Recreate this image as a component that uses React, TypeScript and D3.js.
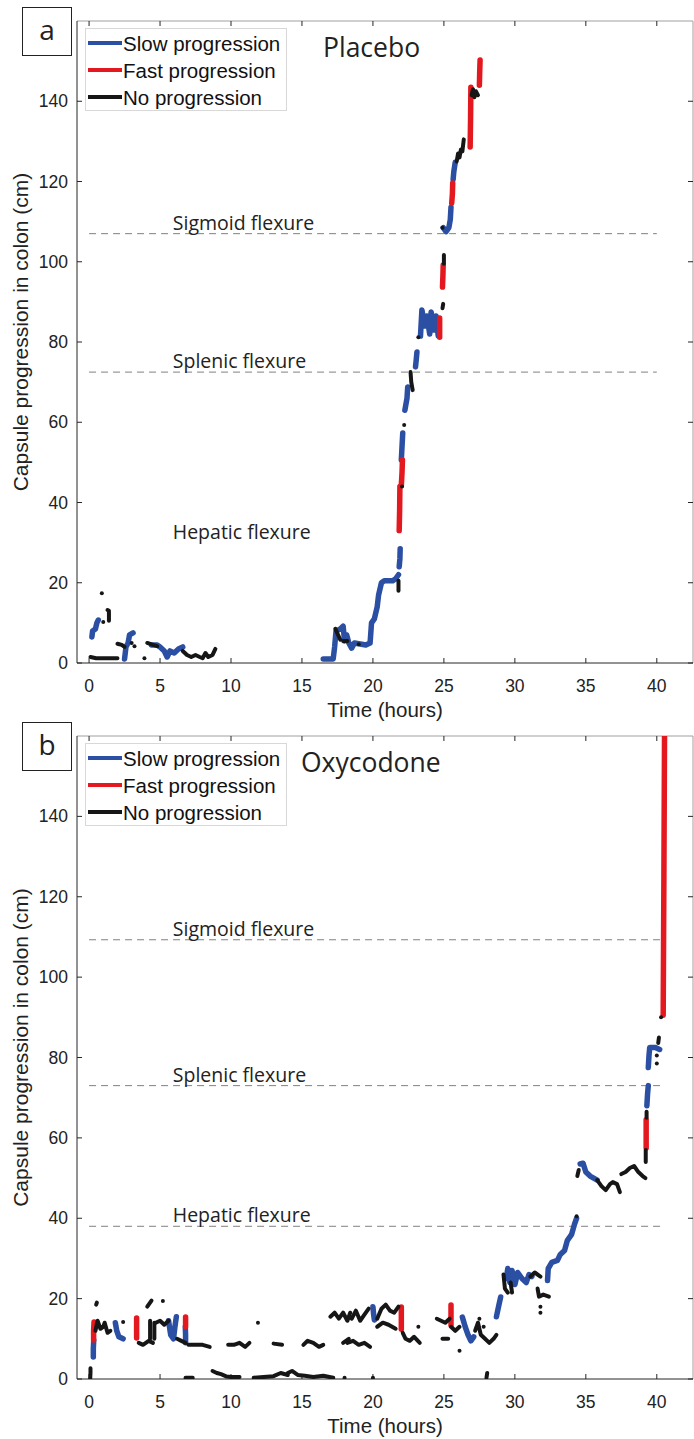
import React from "react";
import * as d3 from "d3";

type Pt = [number, number];
type Seg = Pt[];

// axis ticks
const xTicks = [0, 5, 10, 15, 20, 25, 30, 35, 40];
const yTicks = [0, 20, 40, 60, 80, 100, 120, 140];
const legendLabels = ["Slow progression", "Fast progression", "No progression"];
const flexureNames = ["Sigmoid flexure", "Splenic flexure", "Hepatic flexure"];

// flexure positions (cm) and whether the dashed line is drawn
const placeboFlexures = [107, 72.5, 30];
const placeboFlexureLines = [true, true, false];
const oxyFlexures = [109.3, 73, 38];
const oxyFlexureLines = [true, true, true];

// placebo tracks: [hours, cm]
const placeboSlow: Seg[] = [
  [[0.2, 6.5], [0.25, 8], [0.45, 8.5], [0.55, 10], [0.65, 10.7]],
  [[2.5, 1], [2.6, 4], [2.75, 5], [2.85, 7], [3.1, 7.5]],
  [[4.4, 4.5], [4.8, 4.5], [5.0, 4], [5.3, 3], [5.5, 1.5], [5.7, 3], [6.0, 2.5], [6.3, 3.5], [6.6, 4]],
  [[16.5, 1], [17.2, 1], [17.3, 4], [17.4, 8], [17.7, 8.5], [17.9, 9.2], [18.0, 5.5], [18.15, 7], [18.3, 5],
    [18.5, 3.7], [18.7, 5], [19.0, 4.8], [19.5, 4.5], [19.8, 5], [19.9, 10], [20.1, 11], [20.3, 14], [20.4, 17],
    [20.6, 20], [20.8, 20.5], [21.4, 20.5], [21.6, 21], [21.8, 22]],
  [[21.85, 24], [21.9, 26], [21.92, 28.5]],
  [[22.0, 50.6], [22.05, 54], [22.1, 57.3]],
  [[22.25, 63], [22.4, 66], [22.45, 68.8]],
  [[23.0, 73.8], [23.05, 75.5], [23.1, 77.5]],
  [[23.35, 81.5], [23.45, 88], [23.65, 84], [23.8, 86.5], [24.0, 82], [24.1, 87.5], [24.3, 83], [24.45, 86.5], [24.6, 81.5]],
  [[24.95, 108.5], [25.15, 107.5], [25.35, 108.5], [25.45, 110.5], [25.5, 113.6]],
  [[25.65, 120.5], [25.7, 122.5], [25.8, 124.8]],
];

const placeboFast: Seg[] = [
  [[21.85, 33], [21.88, 38], [21.9, 44]],
  [[22.0, 44.3], [22.05, 47.5], [22.08, 50.6]],
  [[24.7, 81.2], [24.7, 86]],
  [[24.9, 93.7], [24.93, 96.5], [24.95, 99.2]],
  [[25.55, 114.6], [25.6, 117], [25.62, 119.6]],
  [[26.85, 128.6], [26.88, 136], [26.9, 143.5]],
  [[27.5, 144], [27.52, 147], [27.55, 150.3]],
];

const placeboNone: Seg[] = [
  [[0.1, 1.5], [0.5, 1.2], [1.2, 1.2], [2.0, 1.2]],
  [[0.9, 17.4]],
  [[1.3, 13.2], [1.4, 13], [1.4, 10.5]],
  [[1.0, 10.2]],
  [[2.0, 4.8], [2.3, 4.5], [2.5, 4]],
  [[3.0, 5]],
  [[3.2, 4.2]],
  [[3.9, 1.2]],
  [[4.1, 5], [4.5, 4.5], [4.8, 4.2]],
  [[6.6, 3], [6.9, 2], [7.2, 1.5], [7.5, 2], [7.8, 1.5], [8.0, 1.2], [8.2, 2.5], [8.4, 1.5], [8.7, 2], [8.9, 3.5]],
  [[17.35, 8.5], [17.7, 5.8]],
  [[17.9, 5.5], [18.2, 5.5]],
  [[19.0, 4.7]],
  [[21.8, 18], [21.8, 20.5]],
  [[22.05, 44]],
  [[22.2, 59.3]],
  [[22.65, 72.5], [22.7, 70], [22.8, 68]],
  [[23.2, 81.2]],
  [[24.9, 88.4], [24.95, 89.5]],
  [[25.0, 99.5], [25.0, 101.7]],
  [[24.9, 108.5]],
  [[25.9, 125], [26.0, 127], [26.1, 126], [26.2, 128], [26.3, 127.5], [26.4, 130.5]],
  [[26.95, 141.5], [27.05, 143], [27.15, 141], [27.25, 142.5], [27.4, 141.5]],
];

// oxycodone tracks: [hours, cm]
const oxySlow: Seg[] = [
  [[0.3, 5.5], [0.3, 7.5], [0.33, 9.7]],
  [[1.85, 14], [1.95, 12], [2.1, 10.5], [2.4, 10]],
  [[5.6, 14.5], [5.75, 11], [5.95, 10], [6.05, 13], [6.15, 15.5]],
  [[6.78, 13], [6.8, 11], [6.8, 9]],
  [[20.0, 18], [20.05, 16], [20.1, 14.7]],
  [[26.3, 15.4], [26.5, 13], [26.7, 11], [26.9, 9.5], [27.1, 10.5]],
  [[28.7, 15.5], [28.85, 18], [29.0, 20.4]],
  [[29.4, 25], [29.5, 27.5], [29.65, 24], [29.8, 27], [30.0, 23.5], [30.2, 26.5], [30.5, 25], [30.8, 24], [31.0, 26], [31.2, 25.5]],
  [[32.3, 24.5], [32.35, 27.5], [32.6, 29], [33.0, 29.5], [33.2, 31], [33.5, 32], [33.7, 34.5], [34.0, 36], [34.2, 38.5], [34.35, 40]],
  [[34.6, 53.5], [34.8, 53.7], [35.0, 51.5], [35.3, 50.5], [35.8, 49.5]],
  [[39.3, 68], [39.35, 71], [39.4, 73]],
  [[39.4, 77.5], [39.45, 80.5], [39.5, 82.5], [39.9, 82.5], [40.2, 82]],
];

const oxyFast: Seg[] = [
  [[0.32, 9.7], [0.32, 12], [0.35, 14.2]],
  [[3.35, 10.2], [3.35, 12.5], [3.35, 15.2]],
  [[6.8, 13], [6.8, 15.4]],
  [[22.0, 12.4], [22.0, 15], [22.0, 17.9]],
  [[25.5, 13.4], [25.5, 16], [25.5, 18.4]],
  [[39.25, 57.5], [39.25, 61], [39.25, 64.5]],
  [[40.45, 90.5], [40.5, 125], [40.55, 165]],
];

const oxyNone: Seg[] = [
  [[0.08, 0], [0.1, 1.5], [0.1, 2.7]],
  [[0.5, 18.5], [0.55, 19]],
  [[0.45, 12], [0.6, 14.5], [0.8, 12.5], [1.0, 13], [1.1, 14], [1.3, 11.5], [1.5, 12]],
  [[2.4, 14.2]],
  [[3.5, 9], [3.8, 8.5], [4.2, 9.5], [4.5, 9]],
  [[4.1, 18], [4.3, 19], [4.4, 19.5]],
  [[5.2, 19.4]],
  [[4.3, 14.5], [4.3, 10]],
  [[4.6, 14], [4.6, 10]],
  [[4.7, 14], [5.0, 14.5], [5.3, 13.5], [5.6, 14.5]],
  [[6.2, 10], [6.5, 9.5], [6.8, 9]],
  [[7.0, 8.5], [7.5, 8.5], [8.0, 8.5], [8.5, 8]],
  [[9.8, 8.5], [10.2, 8.5], [10.6, 9], [11.0, 8], [11.3, 9]],
  [[11.9, 14]],
  [[13.0, 8.8], [13.6, 8.5]],
  [[15.1, 8.5], [15.4, 9.5], [15.8, 9], [16.2, 8], [16.5, 8.5]],
  [[17.9, 9], [18.3, 10]],
  [[6.8, 0.3], [7.3, 0.3]],
  [[8.7, 2], [9.0, 1.5], [9.3, 1.2], [9.7, 0.6], [10.0, 0.5], [10.6, 0.5]],
  [[11.6, 0.3], [12.3, 0.5], [13.0, 0.7], [13.5, 1.5], [14.0, 1]],
  [[14.0, 1.5], [14.3, 2], [14.7, 1], [15.2, 0.8], [15.8, 0.5], [16.5, 0.8], [17.2, 0.3]],
  [[17.0, 15.5], [17.3, 16.5], [17.6, 15], [17.9, 16.5], [18.2, 14.5], [18.4, 16.5]],
  [[18.5, 15], [18.8, 17], [19.1, 14.5], [19.4, 16], [19.7, 17.5]],
  [[18.2, 9], [18.6, 9.5], [19.0, 8.5], [19.4, 9], [19.8, 8]],
  [[20.3, 15], [20.6, 17.5], [20.9, 18.5], [21.2, 17], [21.5, 16.5], [21.8, 18]],
  [[20.3, 13], [20.7, 14], [21.1, 13.5], [21.6, 12.5]],
  [[22.1, 11.5], [22.3, 10], [22.6, 9.5], [22.9, 10.5], [23.3, 9]],
  [[23.2, 13]],
  [[24.5, 15], [24.8, 14.5], [25.1, 14], [25.4, 15]],
  [[24.9, 10], [25.3, 10]],
  [[26.1, 7]],
  [[25.5, 13], [25.8, 12], [26.1, 13]],
  [[27.2, 12], [27.4, 14], [27.6, 11], [27.9, 10], [28.2, 9], [28.5, 10], [28.7, 11]],
  [[27.5, 15]],
  [[27.8, 13]],
  [[28.0, 0.3], [28.05, 1.5]],
  [[18.0, 0.3]],
  [[20.0, 0.3]],
  [[29.2, 26], [29.3, 22.5], [29.5, 21.5]],
  [[29.7, 24], [29.8, 21.5]],
  [[31.1, 25.5], [31.4, 26.5], [31.8, 25.5]],
  [[31.6, 22.5], [31.7, 20.5], [32.0, 21], [32.4, 20.5]],
  [[31.8, 18]],
  [[31.8, 16.5]],
  [[34.4, 50.5], [34.5, 52]],
  [[34.35, 40.5]],
  [[35.8, 49.5], [36.1, 48], [36.4, 47], [36.7, 48.5], [36.9, 49], [37.2, 48.5], [37.4, 46.5]],
  [[37.5, 51], [37.8, 51.5], [38.1, 52.5], [38.4, 53], [38.7, 51.5], [39.0, 50.5], [39.2, 50]],
  [[39.22, 54], [39.22, 57]],
  [[39.28, 65], [39.28, 66.5]],
  [[40.1, 83.6], [40.15, 85]],
  [[40.0, 78.5]],
  [[40.0, 80.5]],
  [[40.3, 90]],
];

const W = 694;
const H = 1439;
const BLUE = "#2a4fa3";
const RED = "#e3191f";
const BLACK = "#161616";
const sans = "'Liberation Sans', Arial, sans-serif";
const human = "'Open Sans', 'Noto Sans', sans-serif";

const x = d3.scaleLinear().domain([-0.85, 42.55]).range([77, 693]);

type PanelProps = {
  id: string;
  letter: string;
  title: string;
  top: number;
  bottom: number;
  titleX: number;
  slow: Seg[];
  fast: Seg[];
  none: Seg[];
  flexures: number[];
  flexureLines: boolean[];
  lineEnd: number;
};

function Track({ segs, color, width, y }: { segs: Seg[]; color: string; width: number; y: d3.ScaleLinear<number, number> }) {
  const line = d3.line<Pt>().x((d) => x(d[0])).y((d) => y(d[1]));
  return (
    <g>
      {segs.map((s, i) =>
        s.length === 1 ? (
          <circle key={i} cx={x(s[0][0])} cy={y(s[0][1])} r={width / 2} fill={color} />
        ) : (
          <path key={i} d={line(s) || ""} fill="none" stroke={color} strokeWidth={width}
            strokeLinecap="round" strokeLinejoin="round" />
        )
      )}
    </g>
  );
}

function Panel(p: PanelProps) {
  const y = d3.scaleLinear().domain([0, 160]).range([p.bottom, p.top]);
  const [x0, x1] = x.range();
  const legendTop = p.top + 7;
  const legendColors = [BLUE, RED, BLACK];
  return (
    <g>
      <defs>
        <clipPath id={p.id}>
          <rect x={x0} y={p.top} width={x1 - x0} height={p.bottom - p.top} />
        </clipPath>
      </defs>

      {/* frame */}
      <line x1={x0} x2={x1} y1={p.top} y2={p.top} stroke="#a0a0a0" />
      <line x1={x1} x2={x1} y1={p.top} y2={p.bottom} stroke="#a0a0a0" />
      <line x1={x0} x2={x0} y1={p.top} y2={p.bottom} stroke="#262626" />
      <line x1={x0} x2={x1} y1={p.bottom} y2={p.bottom} stroke="#262626" />

      {xTicks.map((t) => (
        <g key={"x" + t}>
          <line x1={x(t)} x2={x(t)} y1={p.bottom} y2={p.bottom - 5} stroke="#262626" />
          <line x1={x(t)} x2={x(t)} y1={p.top} y2={p.top + 5} stroke="#262626" />
          <text x={x(t)} y={p.bottom + 29} textAnchor="middle" fontFamily={sans} fontSize={17.5} fill="#222">{t}</text>
        </g>
      ))}
      {yTicks.map((t) => (
        <g key={"y" + t}>
          <line x1={x0} x2={x0 + 5} y1={y(t)} y2={y(t)} stroke="#262626" />
          <line x1={x1} x2={x1 - 5} y1={y(t)} y2={y(t)} stroke="#262626" />
          <text x={x0 - 9} y={y(t) + 6} textAnchor="end" fontFamily={sans} fontSize={17.5} fill="#222">{t}</text>
        </g>
      ))}

      <text x={(x0 + x1) / 2} y={p.bottom + 54} textAnchor="middle" fontFamily={sans} fontSize={20.5} fill="#222">
        Time (hours)
      </text>
      <text transform={`translate(28,${(p.top + p.bottom) / 2 - 10}) rotate(-90)`} textAnchor="middle"
        fontFamily={sans} fontSize={21} fill="#222">
        Capsule progression in colon (cm)
      </text>

      {/* flexures */}
      {p.flexures.map((f, i) => (
        <g key={"f" + i}>
          {p.flexureLines[i] && (
            <line x1={x(0)} x2={x(p.lineEnd)} y1={y(f)} y2={y(f)} stroke="#808080" strokeDasharray="7,5" />
          )}
          <text x={x(5.9)} y={y(f) - 4} fontFamily={human} fontSize={19.5} fill="#222">{flexureNames[i]}</text>
        </g>
      ))}

      <g clipPath={`url(#${p.id})`}>
        <Track segs={p.slow} color={BLUE} width={5.5} y={y} />
        <Track segs={p.fast} color={RED} width={5.5} y={y} />
        <Track segs={p.none} color={BLACK} width={4} y={y} />
      </g>

      {/* legend */}
      <rect x={85.5} y={legendTop + 0.5} width={201} height={82} fill="#fff" stroke="#d8d8d8" />
      {legendLabels.map((l, i) => (
        <g key={l}>
          <line x1={88} x2={122} y1={legendTop + 15 + i * 27} y2={legendTop + 15 + i * 27} stroke={legendColors[i]} strokeWidth={4} />
          <text x={123} y={legendTop + 22.5 + i * 27} fontFamily={sans} fontSize={20.5} fill="#111">{l}</text>
        </g>
      ))}

      <text x={p.titleX} y={p.top + 36} fontFamily={human} fontSize={26.5} fill="#222">{p.title}</text>

      {/* panel letter */}
      <rect x={22.5} y={p.top - 13.5} width={49} height={48} fill="#fff" stroke="#222" />
      <text x={47} y={p.top + 19} textAnchor="middle" fontFamily={human} fontSize={28} fill="#222">{p.letter}</text>
    </g>
  );
}

export default function App() {
  return (
    <div style={{ position: "absolute", left: 0, top: 0, width: W, height: H, background: "#fff" }}>
      <svg width={W} height={H} viewBox={`0 0 ${W} ${H}`} style={{ display: "block" }}>
        <rect width={W} height={H} fill="#fff" />
        <Panel id="clipA" letter="a" title="Placebo" top={21} bottom={663} titleX={323}
          slow={placeboSlow} fast={placeboFast} none={placeboNone}
          flexures={placeboFlexures} flexureLines={placeboFlexureLines} lineEnd={40} />
        <Panel id="clipB" letter="b" title="Oxycodone" top={736} bottom={1379} titleX={301}
          slow={oxySlow} fast={oxyFast} none={oxyNone}
          flexures={oxyFlexures} flexureLines={oxyFlexureLines} lineEnd={40.4} />
      </svg>
    </div>
  );
}
